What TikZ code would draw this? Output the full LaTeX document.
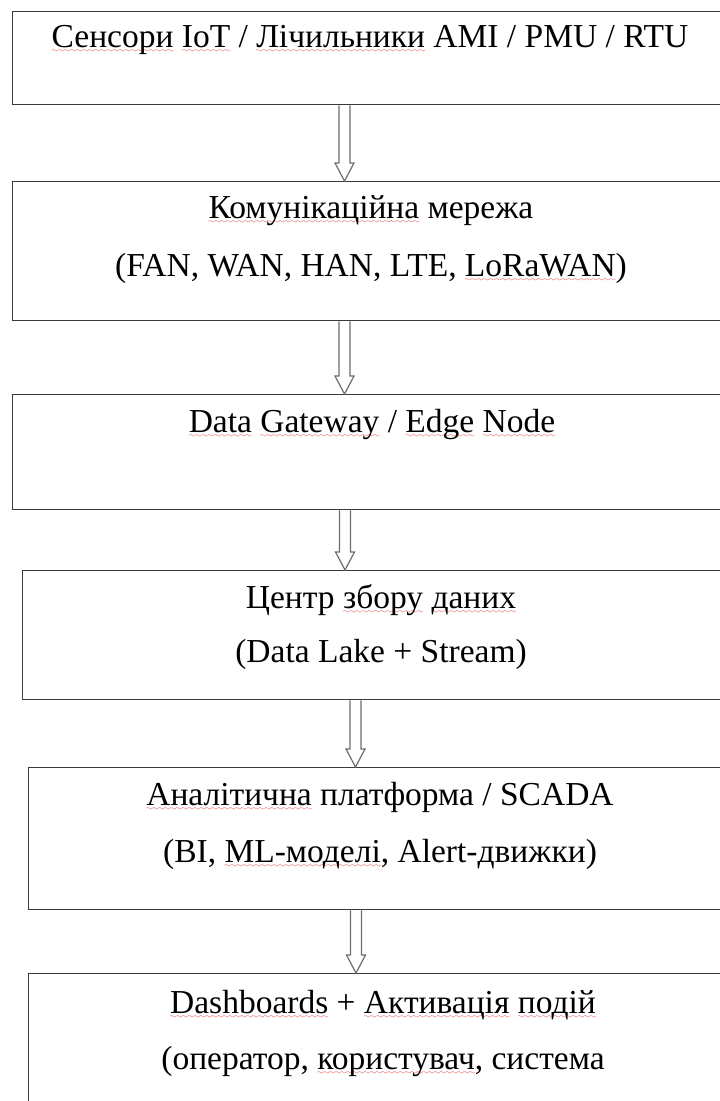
\documentclass[tikz,border=0pt]{standalone}
\usepackage{fontspec}
\setmainfont{Liberation Serif}
\usepackage{xcolor}
\usetikzlibrary{calc}
\definecolor{boxc}{HTML}{3A3A3A}
\definecolor{arrc}{HTML}{6E6E6E}
\definecolor{wavec}{HTML}{E02020}
\font\wavefont=lasy6 at 7pt
\newcommand\sq[1]{\setbox0\hbox{#1}\rlap{\lower5.5pt\hbox to\wd0{\textcolor{wavec}{\xleaders\hbox{\wavefont\char58}\hfill}}}\box0\relax}
\begin{document}
\begin{tikzpicture}[x=1pt,y=-1pt,
  box/.style={draw=boxc, line width=1.3pt, inner sep=0pt, anchor=north west},
  lbl/.style={anchor=base, inner sep=0pt, font=\fontsize{33.5}{40}\selectfont},
  harr/.style={draw=arrc, line width=1.2pt, line join=miter}]
\useasboundingbox (0,0) rectangle (720,1101);
\clip (0,0) rectangle (720,1101);
\fill[white] (0,0) rectangle (720,1101);
% boxes
\node[box, minimum width=728pt, minimum height=93pt]  (b1) at (12,11)  {};
\node[box, minimum width=728pt, minimum height=139pt] (b2) at (12,181) {};
\node[box, minimum width=728pt, minimum height=115pt] (b3) at (12,394) {};
\node[box, minimum width=718pt, minimum height=129pt] (b4) at (22,570) {};
\node[box, minimum width=712pt, minimum height=142pt] (b5) at (28,767) {};
\node[box, minimum width=712pt, minimum height=160pt] (b6) at (28,973) {};
% texts
\node[lbl] (t1)  at (370,47)   {\sq{Сенсори} \sq{IoT} / \sq{Лічильники} AMI / PMU / RTU};
\node[lbl] (t2a) at (371,218)  {\sq{Комунікаційна} мережа};
\node[lbl] (t2b) at (371,276)  {(FAN, WAN, HAN, LTE, \sq{LoRaWAN})};
\node[lbl] (t3)  at (372,432)  {\sq{Data} \sq{Gateway} / \sq{Edge} \sq{Node}};
\node[lbl] (t4a) at (381,608)  {Центр \sq{збору} \sq{даних}};
\node[lbl] (t4b) at (381,662)  {(Data Lake + Stream)};
\node[lbl] (t5a) at (380,805)  {\sq{Аналітична} платформа / SCADA};
\node[lbl] (t5b) at (380,862)  {(BI, \sq{ML-моделі}, Alert-движки)};
\node[lbl] (t6a) at (383,1013) {\sq{Dashboards} + \sq{Активація} \sq{подій}};
\node[lbl] (t6b) at (383,1069) {(оператор, \sq{користувач}, система};
% hollow arrows
\foreach \a/\b/\x in {b1/b2/344.5, b2/b3/344.5, b3/b4/345, b4/b5/355.5, b5/b6/356}{
  \coordinate (X) at (\x,0);
  \coordinate (S) at (\a.south -| X);
  \coordinate (E) at (\b.north -| X);
  \draw[harr] ($(S)+(-5.5,0)$) -- ($(E)+(-5.5,-18)$) -- ($(E)+(-9.5,-18)$) -- (E)
     -- ($(E)+(9.5,-18)$) -- ($(E)+(5.5,-18)$) -- ($(S)+(5.5,0)$);
}
\end{tikzpicture}
\end{document}
